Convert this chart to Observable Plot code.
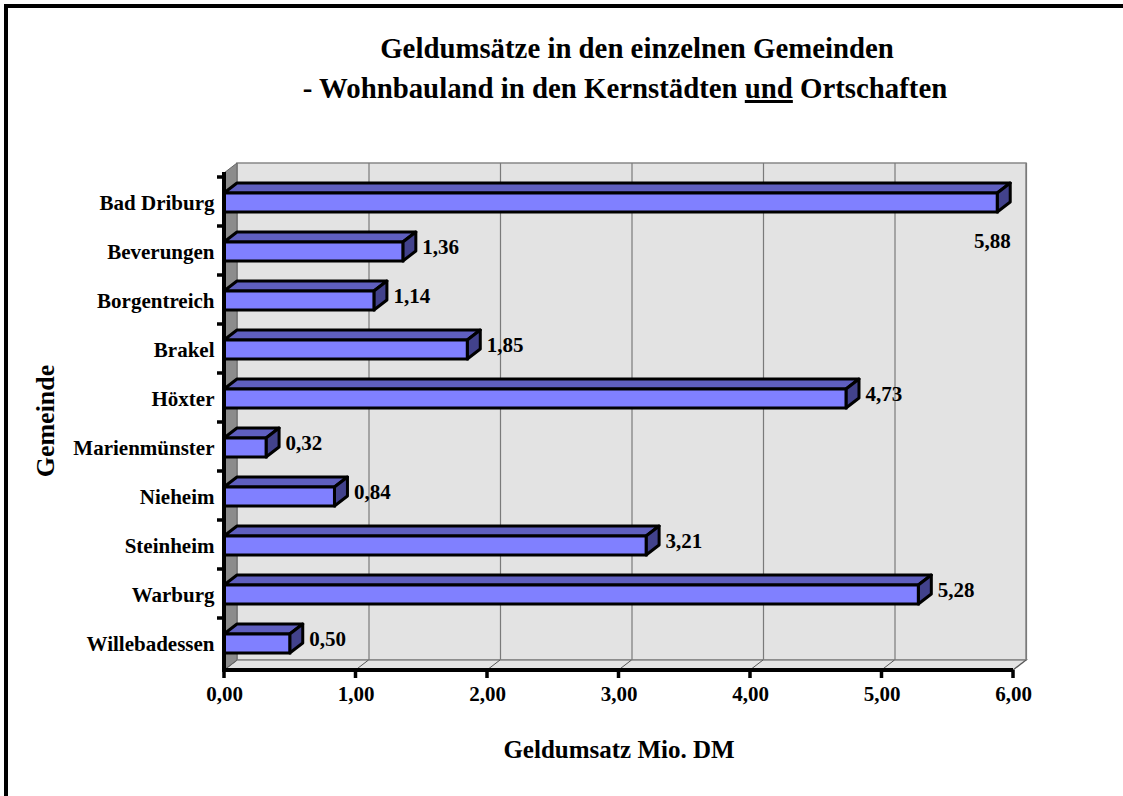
<!DOCTYPE html>
<html><head><meta charset="utf-8">
<script src="https://cdn.jsdelivr.net/npm/d3@7"></script>
<script src="https://cdn.jsdelivr.net/npm/@observablehq/plot@0.6"></script>
<style>
body{margin:0;background:#fff;}
#wrap{position:relative;width:1123px;height:796px;overflow:hidden;font-family:"Liberation Serif","Times New Roman",serif;font-weight:bold;color:#000;}
#frame{position:absolute;left:4px;top:4px;width:1300px;height:1000px;border-left:4px solid #000;border-top:4px solid #000;}
#chart{position:absolute;left:0;top:0;}
.t{position:absolute;white-space:nowrap;transform:translate(-50%,-50%);line-height:1;}
</style></head><body>
<div id="wrap">
<div id="frame"></div>
<div id="chart"></div>
<div class="t" style="left:637px;top:48px;font-size:30px;transform:translate(-50%,-50%) scaleX(0.96)">Geldumsätze in den einzelnen Gemeinden</div>
<div class="t" style="left:625px;top:88px;font-size:30px;transform:translate(-50%,-50%) scaleX(0.96)">- Wohnbauland in den Kernstädten <u>und</u> Ortschaften</div>
<div class="t" style="left:619px;top:749px;font-size:25px">Geldumsatz Mio. DM</div>
<div class="t" style="left:46px;top:421px;font-size:26px;transform:translate(-50%,-50%) rotate(-90deg)">Gemeinde</div>
</div>
<script>
const gemeinden = ["Bad Driburg","Beverungen","Borgentreich","Brakel","Höxter","Marienmünster","Nieheim","Steinheim","Warburg","Willebadessen"];
const umsatz = [5.88,1.36,1.14,1.85,4.73,0.32,0.84,3.21,5.28,0.50];
const xTicks = [0,1,2,3,4,5,6];

const data = gemeinden.map((g,i)=>({name:g, value:umsatz[i]}));
const DX = 13, DY = -10;
const fmt = v => v.toFixed(2).replace(".", ",");

function walls(index, scales, values, dim) {
  const x = scales.x;
  const x0 = x(0), x6 = x(6);
  const yTop = dim.marginTop, yBot = dim.height - dim.marginBottom;
  const g = d3.create("svg:g");
  g.append("rect").attr("x", x0+DX).attr("y", yTop+DY).attr("width", x6-x0).attr("height", yBot-yTop)
    .attr("fill","#E3E3E3").attr("stroke","#888").attr("stroke-width",1.5);
  g.append("path").attr("d", `M${x0},${yBot}L${x6},${yBot}L${x6+DX},${yBot+DY}L${x0+DX},${yBot+DY}Z`)
    .attr("fill","#E3E3E3").attr("stroke","#888").attr("stroke-width",1.5);
  xTicks.forEach(v => {
    g.append("line").attr("x1", x(v)).attr("y1", yBot).attr("x2", x(v)+DX).attr("y2", yBot+DY)
      .attr("stroke","#555").attr("stroke-width",1);
  });
  g.append("path").attr("d", `M${x0},${yTop}L${x0+DX},${yTop+DY}L${x0+DX},${yBot+DY}L${x0},${yBot}Z`)
    .attr("fill","#8C8C8C").attr("stroke","#666").attr("stroke-width",1);
  return g.node();
}

function bar3d(index, scales, values, dim) {
  const x = scales.x, y = scales.y, bw = y.bandwidth();
  const g = d3.create("svg:g").attr("stroke","#000").attr("stroke-width",3).attr("stroke-linejoin","round");
  data.forEach(d => {
    const x0 = x(0), x1 = x(d.value), t = y(d.name)+16, b = y(d.name)+bw-14;
    g.append("path").attr("fill","#5F5FBF").attr("d", `M${x0},${t}L${x1},${t}L${x1+DX},${t+DY}L${x0+DX},${t+DY}Z`);
    g.append("path").attr("fill","#42428C").attr("d", `M${x1},${t}L${x1+DX},${t+DY}L${x1+DX},${b+DY}L${x1},${b}Z`);
  });
  return g.node();
}

function axes(index, scales, values, dim) {
  const x = scales.x, y = scales.y;
  const x0 = x(0), x6 = x(6);
  const yTop = dim.marginTop, yBot = dim.height - dim.marginBottom;
  const g = d3.create("svg:g").attr("stroke","#000");
  gemeinden.forEach(n => {
    g.append("line").attr("x1", x0-7).attr("x2", x0).attr("y1", y(n)).attr("y2", y(n)).attr("stroke-width",3.5);
  });
  xTicks.forEach(v => {
    g.append("line").attr("x1", x(v)).attr("x2", x(v)).attr("y1", yBot).attr("y2", yBot+8).attr("stroke-width",3.5);
  });
  g.append("line").attr("x1", x0).attr("x2", x0).attr("y1", yTop-1).attr("y2", yBot).attr("stroke-width",4);
  g.append("line").attr("x1", x0-2).attr("x2", x6).attr("y1", yBot).attr("y2", yBot).attr("stroke-width",4);
  return g.node();
}

const txt = {fontSize: 21, fontWeight: "bold", fill: "#000", fontFamily: "'Liberation Serif','Times New Roman',serif"};

const chart = Plot.plot({
  width: 1123,
  height: 796,
  marginLeft: 224,
  marginRight: 110,
  marginTop: 173,
  marginBottom: 126,
  style: {fontFamily: "'Liberation Serif','Times New Roman',serif", fontSize: "21px", fontWeight: "bold", background: "transparent", color: "#000", overflow: "visible"},
  x: {domain: [0, 6], axis: null},
  y: {domain: gemeinden, padding: 0, axis: null},
  marks: [
    walls,
    Plot.ruleX(xTicks.filter(v => v > 0), {dx: DX, dy: DY, stroke: "#7a7a7a", strokeWidth: 1.2}),
    bar3d,
    Plot.barX(data, {x: "value", y: "name", fill: "#8080FF", stroke: "#000", strokeWidth: 3, insetTop: 16, insetBottom: 14}),
    axes,
    Plot.text(gemeinden, {y: d => d, frameAnchor: "left", dx: -10, dy: 1, textAnchor: "end", ...txt}),
    Plot.text(xTicks, {x: d => d, frameAnchor: "bottom", dy: 30, text: d => fmt(d), textAnchor: "middle", ...txt}),
    Plot.text(data.filter(d => d.value < 5.5), {x: "value", y: "name", text: d => fmt(d.value), dx: 19, dy: -4, textAnchor: "start", ...txt}),
    Plot.text(data.filter(d => d.value >= 5.5), {x: "value", y: "name", text: d => fmt(d.value), dx: DX, dy: 39, textAnchor: "end", ...txt})
  ]
});
document.getElementById("chart").appendChild(chart);
</script>
</body></html>
